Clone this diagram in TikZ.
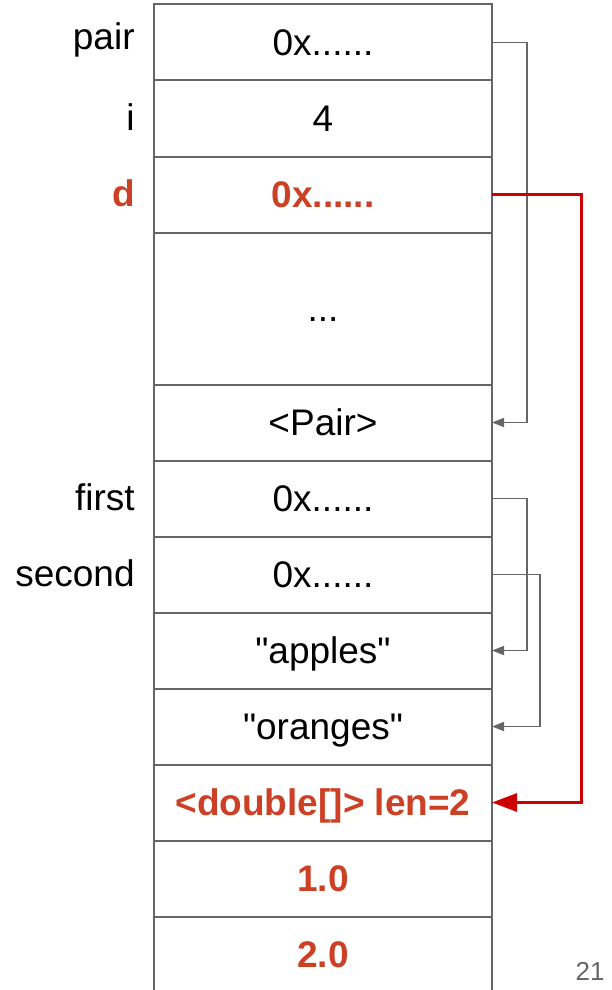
\documentclass[tikz,border=0pt]{standalone}
\usepackage{fontspec}
\setmainfont{Liberation Sans}
\usetikzlibrary{arrows.meta,positioning}

\definecolor{slotgray}{HTML}{666666}
\definecolor{valred}{HTML}{CC4125}
\definecolor{ptrred}{HTML}{CC0000}

\tikzset{
  cell/.style={draw=slotgray, line width=1pt, outer sep=0pt, inner sep=0pt,
    minimum width=169pt, minimum height=38pt,
    text height=13.3pt, text depth=0pt, font=\fontsize{18.5}{22}\selectfont},
  hot/.style={text=valred, font=\fontsize{18.5}{22}\selectfont\bfseries},
  varname/.style={anchor=base east, inner sep=0pt, xshift=-9.5pt, yshift=0.75pt,
    font=\fontsize{18.5}{22}\selectfont},
  ref/.style={draw=slotgray, line width=0.85pt, -{Triangle[length=6pt,width=4.5pt]}},
  dref/.style={draw=ptrred, line width=1.5pt, -{Triangle[length=12.5pt,width=9pt]}},
}

\begin{document}
\begin{tikzpicture}[x=0.5pt, y=-0.5pt]
\useasboundingbox (0,0) rectangle (611,990);

% Stack frame
\node[cell] (pair) at (323,42.5) {0x......};
\node[cell, below=0pt of pair] (i) {4};
\node[cell, hot, below=0pt of i] (d) {0x......};
\node[cell, minimum height=76pt, below=0pt of d] (gap) {...};

% Heap objects
\node[cell, below=0pt of gap] (pairobj) {<Pair>};
\node[cell, below=0pt of pairobj] (first) {0x......};
\node[cell, below=0pt of first] (second) {0x......};
\node[cell, below=0pt of second] (apples) {\textquotedbl apples\textquotedbl};
\node[cell, below=0pt of apples] (oranges) {\textquotedbl oranges\textquotedbl};
\node[cell, hot, below=0pt of oranges] (dbl) {<double[]> len=2};
\node[cell, hot, below=0pt of dbl] (one) {1.0};
\node[cell, hot, below=0pt of one] (two) {2.0};

% Variable names
\node[varname, yshift=2.25pt] (pairname) at (pair.base west) {pair};
\node[varname] (iname) at (i.base west) {i};
\node[varname, hot] (dname) at (d.base west) {d};
\node[varname] (firstname) at (first.base west) {first};
\node[varname] (secondname) at (second.base west) {second};

% References
\draw[ref] (pair.east) -- ++(35,0) |- (pairobj.east);
\draw[ref] (first.east) -- ++(35,0) |- (apples.east);
\draw[ref] (second.east) -- ++(48,0) |- (oranges.east);
\draw[dref] (d.east) -- ++(89,0) |- (dbl.east);

% Slide number
\node[anchor=base east, inner sep=0pt, text=slotgray, font=\fontsize{13}{15}\selectfont] (slideno) at (605,980) {21};

\end{tikzpicture}
\end{document}
